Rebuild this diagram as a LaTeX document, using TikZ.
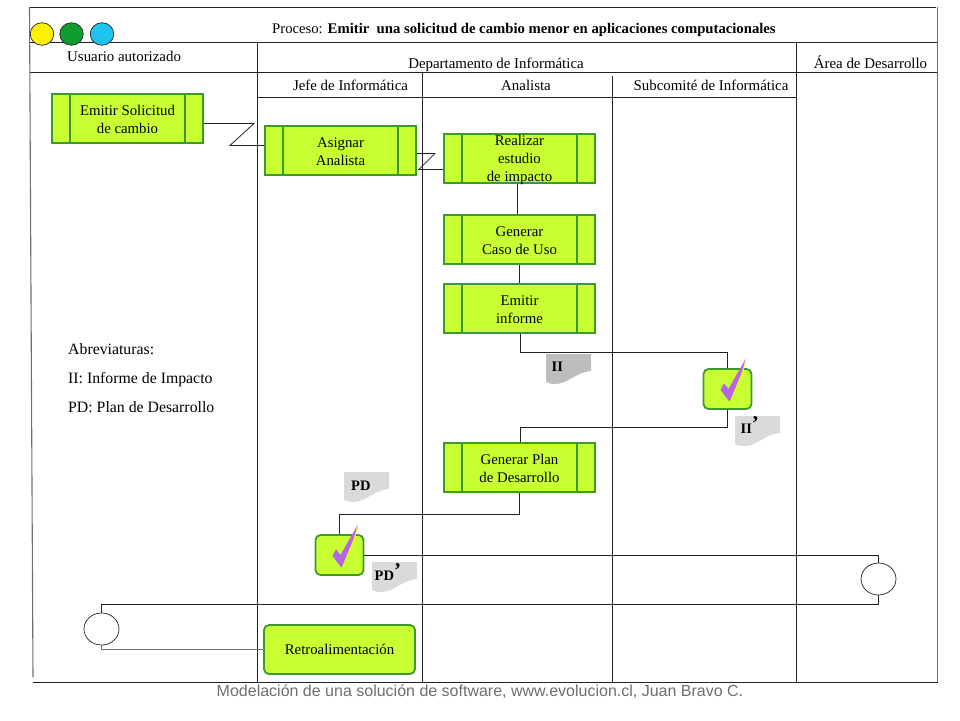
\documentclass[tikz,border=0pt]{standalone}
\usepackage{fontspec}
\setmainfont{Liberation Serif}
\newfontfamily\prfoot{Liberation Sans}
\usetikzlibrary{calc, shapes.geometric}
\definecolor{prFill}{HTML}{C8FF33}
\definecolor{prEdge}{HTML}{3C9A2C}
\definecolor{prLine}{HTML}{222222}
\definecolor{prMuted}{HTML}{6E6E6E}
\definecolor{prCheck}{HTML}{B565E8}
\definecolor{prDocDark}{HTML}{BDBDBD}
\definecolor{prDocLight}{HTML}{DADADA}
\definecolor{prYellow}{HTML}{FFF200}
\definecolor{prGreen}{HTML}{0F9D2F}
\definecolor{prBlue}{HTML}{1CC4EE}
\tikzset{
  prbody/.style={
    draw=prEdge, fill=prFill, line width=1.8pt, minimum width=151pt,
    minimum height=49pt, inner sep=0pt, align=center, text=black,
    font=\fontsize{14.8}{17.8}\selectfont,
  },
  prlabel/.style={
    inner sep=0pt, align=center, text=black, font=\fontsize{14.8}{17.8}\selectfont,
  },
  prround/.style={prbody, rounded corners=5pt},
  prbox/.style={
    draw=prEdge, fill=prFill, line width=1.8pt, rounded corners=5pt,
    minimum width=48pt, minimum height=40pt, inner sep=0pt,
  },
  prgate/.style={
    ellipse, draw=prLine, fill=white, line width=0.7pt, minimum width=35pt,
    minimum height=32pt, inner sep=0pt,
  },
  prlamp/.style={
    ellipse, draw=prLine, line width=0.7pt, minimum width=23.5pt,
    minimum height=22.5pt, inner sep=0pt,
  },
  prframe/.style={draw=prLine, line width=0.9pt},
  prlink/.style={draw=prLine, line width=0.8pt},
  prgrey/.style={draw=prMuted, line width=1.1pt},
  prtext/.style={font=\fontsize{14.9}{17}\selectfont, inner sep=0pt, text=black, anchor=base},
  prabbrev/.style={font=\fontsize{15.8}{17}\selectfont, inner sep=0pt, text=black, anchor=base west},
  prdoctext/.style={font=\fontsize{14.5}{14}\selectfont\bfseries, inner sep=0pt, anchor=base west},
}
\newcommand{\prstep}[3]{%
  \node[prbody] (#1) at (#2) {};%
  \draw[draw=prEdge, line width=1.6pt]
    ($(#1.north west)+(19,0)$) -- ($(#1.south west)+(19,0)$)
    ($(#1.north east)+(-19,0)$) -- ($(#1.south east)+(-19,0)$);%
  \node[prlabel] (#1txt) at ($(#1.center)+(0,1.2)$) {#3};%
}
\newcommand{\prtick}[2]{%
  \node[prbox] (#1) at (#2) {};%
  \fill[prYellow, shift={(#1.center)}] (18.5,-31) -- (15.5,-16) -- (3,12) -- cycle;%
  \fill[prCheck, shift={(#1.center)}] (18,-30) -- (14,-16) -- (2,12.7) -- (-7,1)
    -- (-3.5,-5.7) -- (1,0) -- cycle;%
}
\newcommand{\prdoc}[5]{%
  \fill[#3, shift={(#2)}] (0,0) -- (45,0) -- (45,17) .. controls (30,18) and (22,30) .. (9,30)
    .. controls (5,30) and (2,29) .. (0,28) -- cycle;%
  \node[prdoctext] (#1) at ($(#2)+(#4)$) {#5};%
}

\begin{document}
\begin{tikzpicture}[x=1pt, y=-1pt]
\useasboundingbox (0,0) rectangle (960,720);

% Frame -------------------------------------------------------------------
\draw[prframe] (29.5,7) -- (936,7);
\draw[prframe] (30,42) -- (937,42);
\draw[prframe] (30,72) -- (937,72);
\draw[prframe] (258,97) -- (796,97);
\draw[prframe] (33,682) -- (938,682);
\draw[prframe] (257,42) -- (257,682);
\draw[prframe] (422,72) -- (422,682);
\draw[prframe] (612,76) -- (612,682);
\draw[prframe] (796,42) -- (796,682);
\draw[prgrey] (29.5,7) -- (33,677);
\draw[prgrey] (937.5,7) -- (937.5,682);

% Header ------------------------------------------------------------------
\node[prlamp, fill=prYellow] (lamp1) at (42,34) {};
\node[prlamp, fill=prGreen] (lamp2) at (71.5,34) {};
\node[prlamp, fill=prBlue] (lamp3) at (102,34) {};
\node[prtext, anchor=base west, font=\fontsize{14.7}{17}\selectfont] (title) at (272,33) {Proceso: \textbf{Emitir\ \ una solicitud de cambio menor en aplicaciones computacionales}};
\node[prtext, anchor=base west] (usuario) at (67,61) {Usuario autorizado};
\node[prtext] (depto) at (496,68) {Departamento de Informática};
\node[prtext] (desarrollo) at (870.5,68) {Área de Desarrollo};
\node[prtext] (jefe) at (350.5,90) {Jefe de Informática};
\node[prtext] (analista) at (526,90) {Analista};
\node[prtext] (subcomite) at (711,90) {Subcomité de Informática};

% Abbreviations -----------------------------------------------------------
\node[prabbrev] (abrev) at (68,354) {Abreviaturas:};
\node[prabbrev] (abrevII) at (68,383) {II: Informe de Impacto};
\node[prabbrev] (abrevPD) at (68,412) {PD: Plan de Desarrollo};

% Steps -------------------------------------------------------------------
\prstep{s1}{127.5,118.5}{Emitir Solicitud\\de cambio}
\prstep{s2}{340.5,150.5}{Asignar\\Analista}
\prstep{s3}{519.5,158.5}{Realizar\\estudio\\de impacto}
\prstep{s4}{519.5,239.5}{Generar\\Caso de Uso}
\prstep{s5}{519.5,308.5}{Emitir\\informe}
\prstep{s6}{519.5,467.5}{Generar Plan\\de Desarrollo}
\prtick{c1}{727.5,389}
\prtick{c2}{339.5,555}
\node[prround] (s7) at (339.5,649.5) {Retroalimentación};
\node[prgate] (e1) at (878.5,579) {};
\node[prgate] (e2) at (101.5,629) {};

% Documents ---------------------------------------------------------------
\prdoc{d1}{546,354}{prDocDark}{5.5,17}{II}
\prdoc{d2}{735,416}{prDocLight}{5.5,17}{II\raisebox{3pt}{\fontsize{21}{21}\selectfont'}}
\prdoc{d3}{344,472}{prDocLight}{7,18}{PD}
\prdoc{d4}{372,562}{prDocLight}{2.5,18}{PD\raisebox{3pt}{\fontsize{21}{21}\selectfont'}}

% Flow --------------------------------------------------------------------
\draw[prlink] ($(s1.east)+(0,5)$) -- ++(50,0) -- ++(-24,22) -- ($(s2.west)+(0,-5)$);
\draw[prlink] ($(s2.east)+(0,3)$) -- ++(18,0) -- ++(-16,16) -- ($(s3.west)+(0,11)$);
\draw[prlink] ($(s3.south)+(-2.5,0)$) -- ($(s4.north)+(-2.5,0)$);
\draw[prlink] (s4) -- (s5);
\draw[prlink] ($(s5.south)+(1,0)$) -- ++(0,18) -| (c1.north);
\draw[prlink] (c1.south) -- ++(0,17.5) -| ($(s6.north)+(1,0)$);
\draw[prlink] (s6.south) -- ++(0,21.5) -| (c2.north);
\draw[prlink] (c2.east) -| (e1.north);
\draw[prlink] (e1.south) -- ++(0,9) -| (e2.north);
\draw[prgrey] (e2.south) |- (s7.west);

% Footer ------------------------------------------------------------------
\node[inner sep=0pt, text=prMuted, font=\prfoot\fontsize{16}{16}\selectfont, anchor=base] (foot) at (480,696) {Modelación de una solución de software, www.evolucion.cl, Juan Bravo C.};
\end{tikzpicture}
\end{document}
